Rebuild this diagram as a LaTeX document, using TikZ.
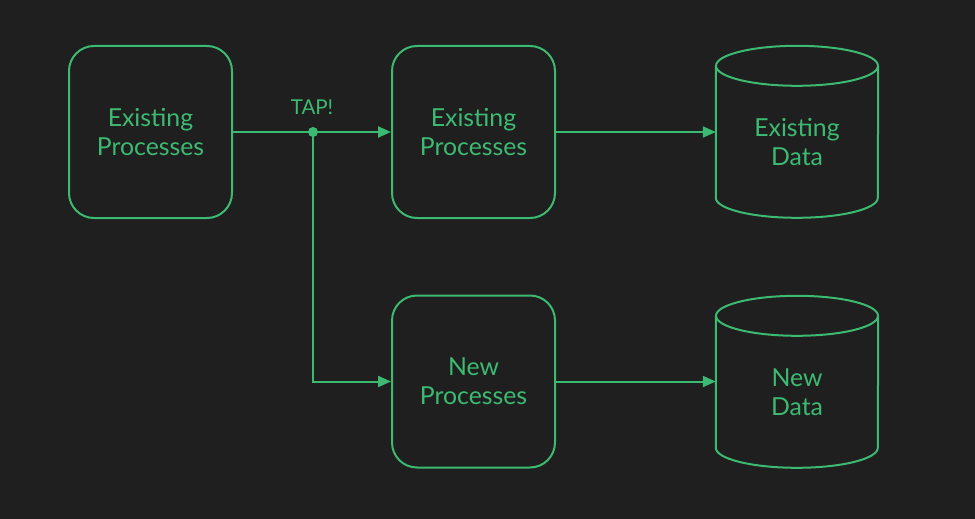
\documentclass[tikz,border=0pt]{standalone}
\usepackage{fontspec}
\setmainfont{Lato}
\usetikzlibrary{arrows.meta,calc}
\definecolor{bg}{HTML}{1F1F1F}
\definecolor{grn}{HTML}{3CBA72}
\begin{document}
\begin{tikzpicture}[x=1pt,y=1pt,
  line/.style={draw=grn,line width=2pt},
  arrow/.style={line,-{Triangle[length=13pt,width=11pt]}},
  procbox/.style={line,rectangle,rounded corners=25pt,minimum width=163pt,minimum height=172pt,
    text=grn,align=center,font=\fontsize{24.8}{29}\selectfont,inner sep=0pt},
  databody/.style={rectangle,minimum width=162pt,minimum height=152pt,
    text=grn,align=center,font=\fontsize{24.8}{29}\selectfont,inner sep=0pt},
  lbl/.style={text=grn,font=\fontsize{20.5}{24}\selectfont,inner sep=0pt}]
\fill[bg] (0,0) rectangle (975,-519);
\useasboundingbox (0,0) rectangle (975,-519);
\node[procbox] (b1) at (150.5,-132) {Existing\\Processes};
\node[procbox] (b2) at (473.5,-132) {Existing\\Processes};
\node[procbox] (b3) at (473.5,-381.5) {New\\Processes};
\node[databody] (d1) at (797,-142) {Existing\\Data};
\node[databody] (d2) at (797,-392) {New\\Data};
\foreach \d in {d1,d2}{
  \draw[line] (\d.north west) -- ++(0,-132) arc[start angle=180,end angle=360,x radius=81,y radius=20] -- (\d.north east);
  \draw[line] (\d.north) ellipse[x radius=81,y radius=20];
}
\coordinate (tap) at (313,-132);
\node[lbl,anchor=base] (taplbl) at (312,-114.5) {TAP!};
\draw[line] (b1.east) -- (tap);
\draw[arrow] (tap) -- (b2.west);
\draw[arrow] (tap) |- (b3.west);
\fill[grn] (tap) circle[radius=5];
\draw[arrow] (b2.east) -- (b2.east -| d1.west);
\draw[arrow] (b3.east) -- (b3.east -| d2.west);
\end{tikzpicture}
\end{document}
